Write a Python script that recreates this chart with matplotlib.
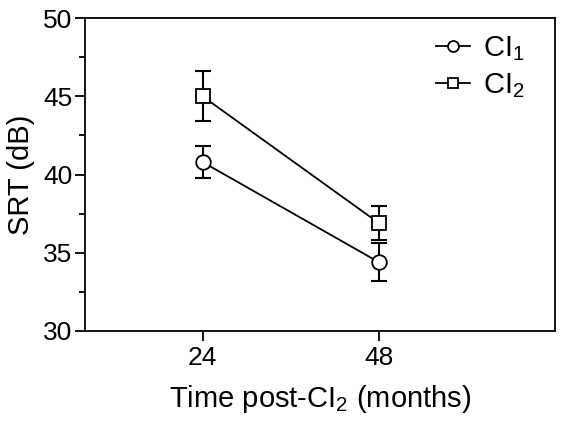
import matplotlib
matplotlib.use("Agg")
import matplotlib.pyplot as plt
from matplotlib.ticker import MultipleLocator

plt.rcParams['font.family'] = ['Liberation Sans', 'DejaVu Sans']
plt.rcParams['mathtext.fontset'] = 'custom'
plt.rcParams['mathtext.rm'] = 'Liberation Sans'
plt.rcParams['mathtext.it'] = 'Liberation Sans'

months = [24, 48]
ci1_mean = [40.8, 34.4]
ci1_err = [1.0, 1.2]
ci2_mean = [45.0, 36.9]
ci2_err = [1.6, 1.1]
labels = ['CI$_1$', 'CI$_2$']

fig = plt.figure(figsize=(5.62, 4.30), dpi=100)
ax = fig.add_axes([85/562, 1-331/430, 470/562, 313/430])

for mean, err, mk, lab in [(ci1_mean, ci1_err, 'o', labels[0]), (ci2_mean, ci2_err, 's', labels[1])]:
    ax.errorbar(months, mean, yerr=err, fmt='none', ecolor='black', capsize=6,
                elinewidth=1.5, capthick=1.5, zorder=2)
    ax.plot(months, mean, color='black', marker=mk, markersize=10.5,
            markerfacecolor='white', markeredgecolor='black', markeredgewidth=1.3,
            linewidth=1.3, label=lab, zorder=3)

ax.set_xlim(8, 72)
ax.set_ylim(30, 50)
ax.set_xticks(months)
ax.yaxis.set_major_locator(MultipleLocator(5))
ax.yaxis.set_minor_locator(MultipleLocator(2.5))
ax.tick_params(axis='both', which='major', direction='out', length=7, width=1.3, labelsize=19)
ax.tick_params(axis='y', which='minor', direction='out', length=4, width=1.3)
ax.tick_params(axis='y', pad=2)
for s in ax.spines.values():
    s.set_linewidth(1.3)

ax.set_xlabel('Time post-CI$_2$ (months)', fontsize=21, labelpad=10)
ax.set_ylabel('SRT (dB)', fontsize=21, labelpad=6)

leg = ax.legend(loc='upper right', bbox_to_anchor=(0.979, 1.015), frameon=False,
                fontsize=21, markerscale=0.75, handlelength=1.15, handletextpad=0.45,
                borderaxespad=0.3, labelspacing=0.3)

fig.savefig('out.png', dpi=100)
